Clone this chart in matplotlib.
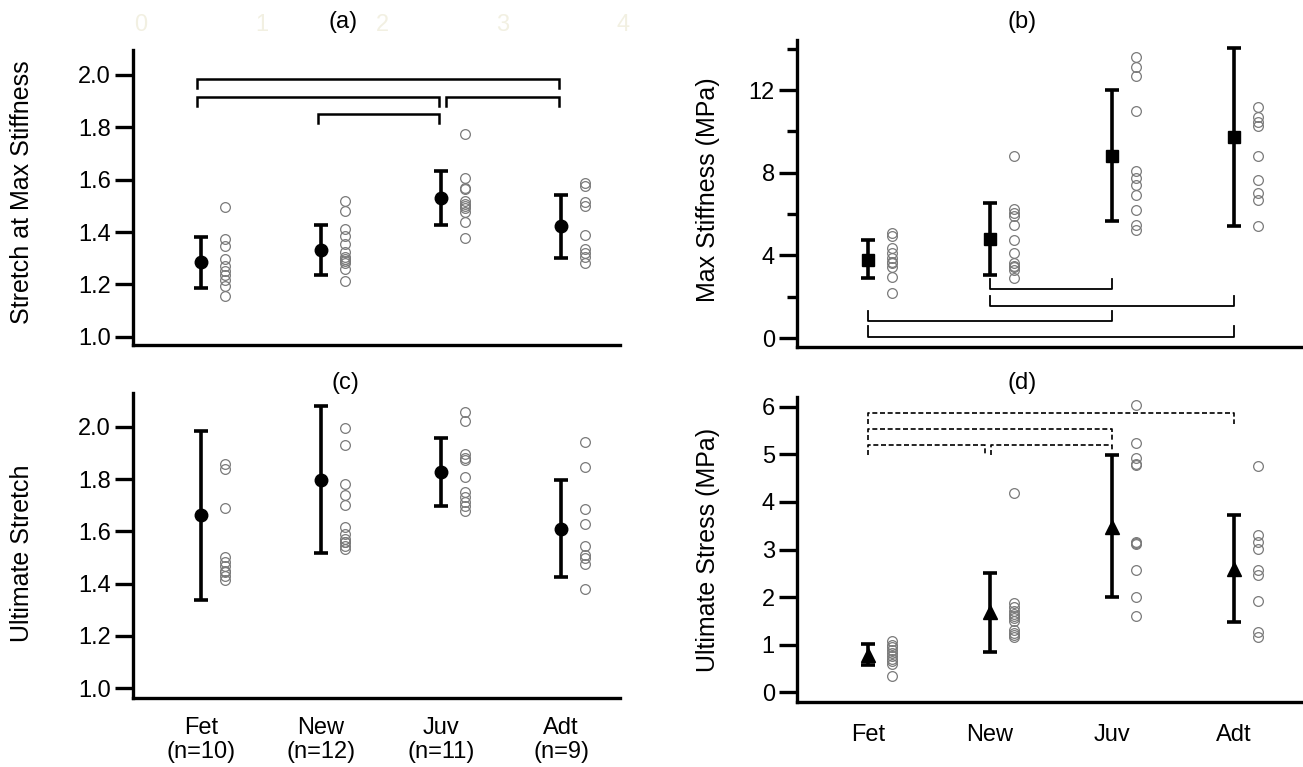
import numpy as np
import matplotlib
matplotlib.use("Agg")
import matplotlib.pyplot as plt

plt.rcParams['font.family'] = ['Liberation Sans', 'DejaVu Sans']

groups = ["Fet", "New", "Juv", "Adt"]
n_labels = ["(n=10)", "(n=12)", "(n=11)", "(n=9)"]

## (a) stretch at max stiffness
a_mean = [1.287, 1.331, 1.530, 1.422]
a_lo = [1.187, 1.235, 1.428, 1.301]
a_hi = [1.383, 1.428, 1.633, 1.542]
a_pts = [
    [1.495, 1.373, 1.347, 1.296, 1.271, 1.251, 1.238, 1.219, 1.193, 1.155],
    [1.520, 1.482, 1.412, 1.386, 1.354, 1.325, 1.303, 1.296, 1.290, 1.283, 1.258, 1.213],
    [1.773, 1.607, 1.568, 1.565, 1.520, 1.508, 1.500, 1.491, 1.478, 1.437, 1.376],
    [1.588, 1.576, 1.514, 1.499, 1.390, 1.337, 1.322, 1.303, 1.281],
]
# (left group, right group, y, drop to)
a_brackets = [(0, 3, 1.986, 1.950), (0, 2, 1.914, 1.880), (2, 3, 1.914, 1.880), (1, 2, 1.851, 1.815)]

## (b) max stiffness
b_mean = [3.77, 4.77, 8.81, 9.74]
b_lo = [2.92, 3.05, 5.66, 5.42]
b_hi = [4.74, 6.52, 12.0, 14.04]
b_pts = [
    [5.10, 4.95, 4.34, 4.10, 3.86, 3.70, 3.61, 3.45, 2.97, 2.16],
    [8.81, 6.23, 6.03, 5.90, 5.47, 4.74, 4.13, 3.61, 3.50, 3.45, 3.30, 2.89],
    [13.61, 13.13, 12.68, 11.0, 8.09, 7.72, 7.40, 6.92, 6.19, 5.47, 5.22],
    [11.19, 10.68, 10.45, 10.26, 8.82, 7.64, 7.00, 6.68, 5.42],
]
b_brackets = [(1, 2, 2.36, 2.84), (1, 3, 1.56, 2.05), (0, 2, 0.82, 1.32), (0, 3, 0.03, 0.58)]

## (c) ultimate stretch
c_mean = [1.662, 1.796, 1.826, 1.611]
c_lo = [1.336, 1.516, 1.697, 1.425]
c_hi = [1.986, 2.080, 1.957, 1.796]
c_pts = [
    [1.859, 1.839, 1.688, 1.501, 1.484, 1.467, 1.450, 1.445, 1.431, 1.412],
    [1.997, 1.932, 1.783, 1.738, 1.703, 1.617, 1.589, 1.570, 1.560, 1.558, 1.545, 1.532],
    [2.058, 2.024, 1.897, 1.880, 1.875, 1.809, 1.750, 1.731, 1.714, 1.697, 1.678],
    [1.944, 1.845, 1.687, 1.630, 1.543, 1.510, 1.497, 1.475, 1.380],
]

## (d) ultimate stress
d_mean = [0.78, 1.69, 3.48, 2.60]
d_lo = [0.57, 0.85, 1.99, 1.48]
d_hi = [1.01, 2.51, 4.99, 3.73]
d_pts = [
    [1.07, 1.00, 0.95, 0.88, 0.82, 0.75, 0.70, 0.65, 0.60, 0.33],
    [4.18, 1.88, 1.80, 1.70, 1.65, 1.60, 1.55, 1.50, 1.30, 1.25, 1.20, 1.16],
    [6.04, 5.24, 4.92, 4.80, 4.78, 3.16, 3.13, 3.12, 2.57, 1.99, 1.59],
    [4.76, 3.31, 3.16, 3.02, 2.57, 2.46, 1.92, 1.27, 1.16],
]
d_brackets = [(0, 3, 5.88, 5.64), (0, 2, 5.53, 5.31), (0, 1, 5.20, 4.99), (1, 2, 5.20, 5.06)]

W, H = 1303, 767
fig = plt.figure(figsize=(W / 100, H / 100), dpi=100)


def box(l, r, t, b):
    return [l / W, 1 - b / H, (r - l) / W, (b - t) / H]


ax_a = fig.add_axes(box(133, 620, 50, 345))
ax_c = fig.add_axes(box(133, 620, 393, 698))
ax_b = fig.add_axes(box(797, 1303, 40, 347))
ax_d = fig.add_axes(box(797, 1303, 397, 702))

xpos = np.arange(4) + 0.5
fs = 17
fs_lab = 18


def panel(ax, mean, lo, hi, pts, marker, ms):
    mean = np.array(mean)
    yerr = [mean - np.array(lo), np.array(hi) - mean]
    ax.errorbar(xpos, mean, yerr=yerr, fmt=marker, color="black", ms=ms,
                elinewidth=2.6, capsize=5, capthick=2.6, zorder=3)
    for i, p in enumerate(pts):
        ax.plot(np.full(len(p), xpos[i] + 0.2), p, "o", mfc="none", mec="#7a7a7a",
                mew=0.9, ms=7, linestyle="none", zorder=2)
    for s in ["top", "right"]:
        ax.spines[s].set_visible(False)
    for s in ["left", "bottom"]:
        ax.spines[s].set_linewidth(2.4)
    ax.tick_params(axis="y", direction="out", length=13, width=2.4, labelsize=fs, pad=3)
    ax.tick_params(axis="x", length=0, labelsize=fs)
    ax.set_xticks(xpos)


panel(ax_a, a_mean, a_lo, a_hi, a_pts, "o", 9)
panel(ax_c, c_mean, c_lo, c_hi, c_pts, "o", 9)
panel(ax_b, b_mean, b_lo, b_hi, b_pts, "s", 9)
panel(ax_d, d_mean, d_lo, d_hi, d_pts, "^", 9.5)

ax_a.set_xlim(-0.067, 3.99)
ax_c.set_xlim(-0.067, 3.99)
ax_b.set_xlim(-0.082, 4.066)
ax_d.set_xlim(-0.082, 4.066)

ax_a.set_ylim(0.969, 2.095)
ax_a.set_yticks(np.arange(1.0, 2.01, 0.2))
ax_a.set_yticklabels(["%.1f" % v for v in np.arange(1.0, 2.01, 0.2)])
ax_c.set_ylim(0.962, 2.130)
ax_c.set_yticks(np.arange(1.0, 2.01, 0.2))
ax_c.set_yticklabels(["%.1f" % v for v in np.arange(1.0, 2.01, 0.2)])
ax_b.set_ylim(-0.435, 14.42)
ax_b.set_yticks([0, 4, 8, 12])
ax_b.set_yticks([2, 6, 10, 14], minor=True)
ax_b.tick_params(axis="y", which="minor", length=7, width=2.4)
ax_d.set_ylim(-0.21, 6.21)
ax_d.set_yticks(range(7))

ax_a.set_xticklabels([])
ax_b.set_xticklabels([])
ax_c.set_xticklabels([g + "\n" + n for g, n in zip(groups, n_labels)], linespacing=1.1)
ax_d.set_xticklabels(groups)
ax_c.tick_params(axis="x", pad=14)
ax_d.tick_params(axis="x", pad=16)

# significance brackets
for i, j, y, y2 in a_brackets:
    x0 = xpos[i] - 0.03 if not (i == 2 and j == 3) else xpos[i] + 0.04
    x1 = xpos[j] - 0.02
    ax_a.plot([x0, x0, x1, x1], [y2, y, y, y2], color="black", lw=1.8, solid_joinstyle="miter")
for i, j, y, y2 in b_brackets:
    ax_b.plot([xpos[i], xpos[i], xpos[j], xpos[j]], [y2, y, y, y2], color="black", lw=1.3)
for i, j, y, y2 in d_brackets:
    x0 = xpos[i] + (0.01 if i == 1 else 0.0)
    x1 = xpos[j] - (0.04 if j == 1 else 0.0)
    y_left = y2 if i == 0 else 4.99
    ax_d.plot([x0, x0, x1, x1], [y_left, y, y, y2], color="black", lw=1.2,
              linestyle=(0, (3, 1.6)))

# faint ghost axis numbers above panel (a)
for k in range(5):
    fig.text((141 + 120.5 * k) / W, 1 - 25 / H, str(k), color="#f2f0e2",
             fontsize=fs, ha="center", va="center")

fig.text(343 / W, 1 - 22 / H, "(a)", fontsize=fs, ha="center", va="center")
fig.text(1022 / W, 1 - 22 / H, "(b)", fontsize=fs, ha="center", va="center")
fig.text(345 / W, 1 - 383 / H, "(c)", fontsize=fs, ha="center", va="center")
fig.text(1022 / W, 1 - 383 / H, "(d)", fontsize=fs, ha="center", va="center")

fig.text(22 / W, 1 - 192 / H, "Stretch at Max Stiffness", rotation=90, fontsize=fs_lab,
         ha="center", va="center")
fig.text(22 / W, 1 - 553 / H, "Ultimate Stretch", rotation=90, fontsize=fs_lab,
         ha="center", va="center")
fig.text(708 / W, 1 - 190 / H, "Max Stiffness (MPa)", rotation=90, fontsize=fs_lab,
         ha="center", va="center")
fig.text(708 / W, 1 - 550 / H, "Ultimate Stress (MPa)", rotation=90, fontsize=fs_lab,
         ha="center", va="center")

fig.savefig("out.png", dpi=100)
